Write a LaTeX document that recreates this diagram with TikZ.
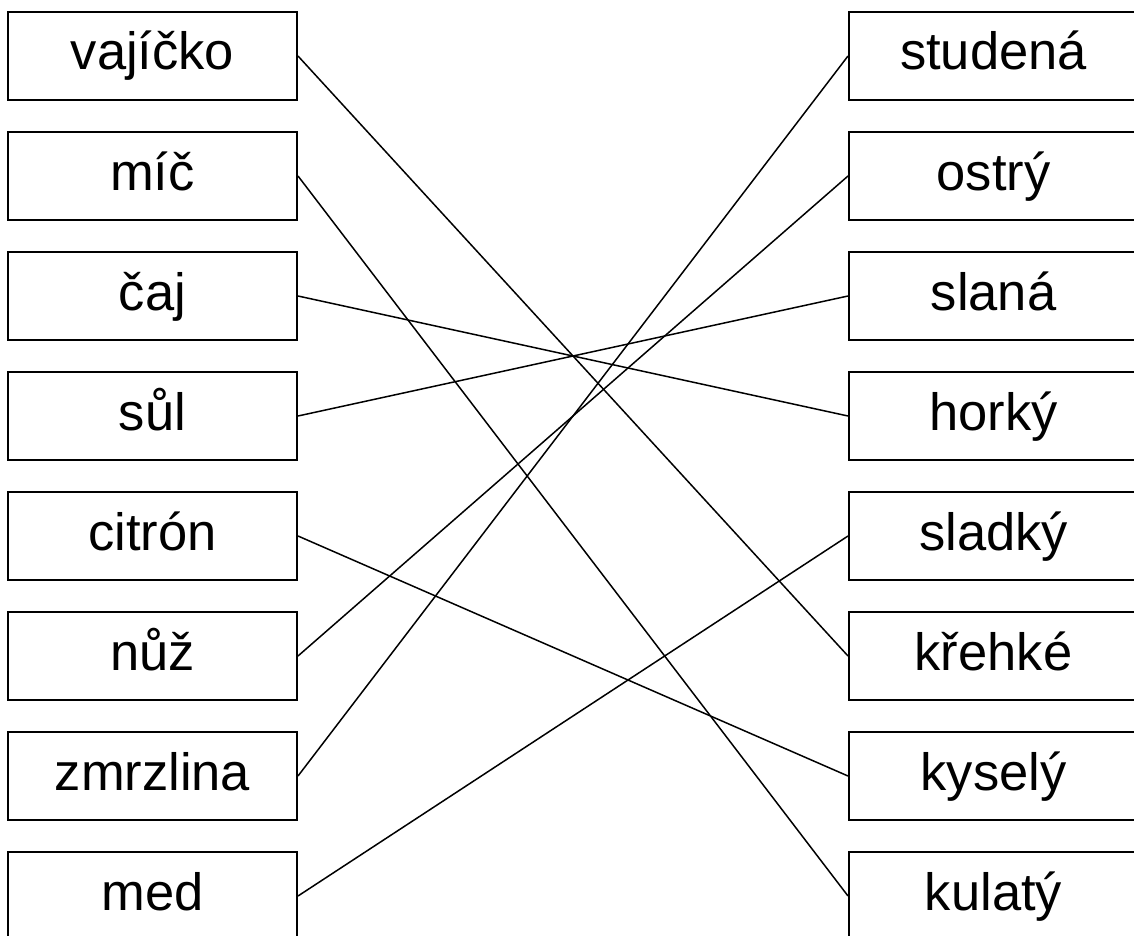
\documentclass[tikz,border=0pt]{standalone}
\usepackage{fontspec}
\setmainfont{Liberation Sans}
\begin{document}
\begin{tikzpicture}[x=1pt,y=-1pt,
  word/.style={draw=black, line width=2pt, minimum width=289pt, minimum height=88pt,
    inner sep=0pt, text height=40pt, text depth=12pt,
    font=\fontsize{52.5}{60}\selectfont},
  link/.style={line width=1.5pt}]
\useasboundingbox (0,0) rectangle (1134,936);
% left column
\node[word] (l0) at (152.5,56) {vajíčko};
\node[word] (l1) at (152.5,176) {míč};
\node[word] (l2) at (152.5,296) {čaj};
\node[word] (l3) at (152.5,416) {sůl};
\node[word] (l4) at (152.5,536) {citrón};
\node[word] (l5) at (152.5,656) {nůž};
\node[word] (l6) at (152.5,776) {zmrzlina};
\node[word] (l7) at (152.5,896) {med};
% right column
\node[word] (r0) at (993.5,56) {studená};
\node[word] (r1) at (993.5,176) {ostrý};
\node[word] (r2) at (993.5,296) {slaná};
\node[word] (r3) at (993.5,416) {horký};
\node[word] (r4) at (993.5,536) {sladký};
\node[word] (r5) at (993.5,656) {křehké};
\node[word] (r6) at (993.5,776) {kyselý};
\node[word] (r7) at (993.5,896) {kulatý};
% connectors
\draw[link] (l0.east) -- (r5.west);
\draw[link] (l1.east) -- (r7.west);
\draw[link] (l2.east) -- (r3.west);
\draw[link] (l3.east) -- (r2.west);
\draw[link] (l4.east) -- (r6.west);
\draw[link] (l5.east) -- (r1.west);
\draw[link] (l6.east) -- (r0.west);
\draw[link] (l7.east) -- (r4.west);
\end{tikzpicture}
\end{document}
